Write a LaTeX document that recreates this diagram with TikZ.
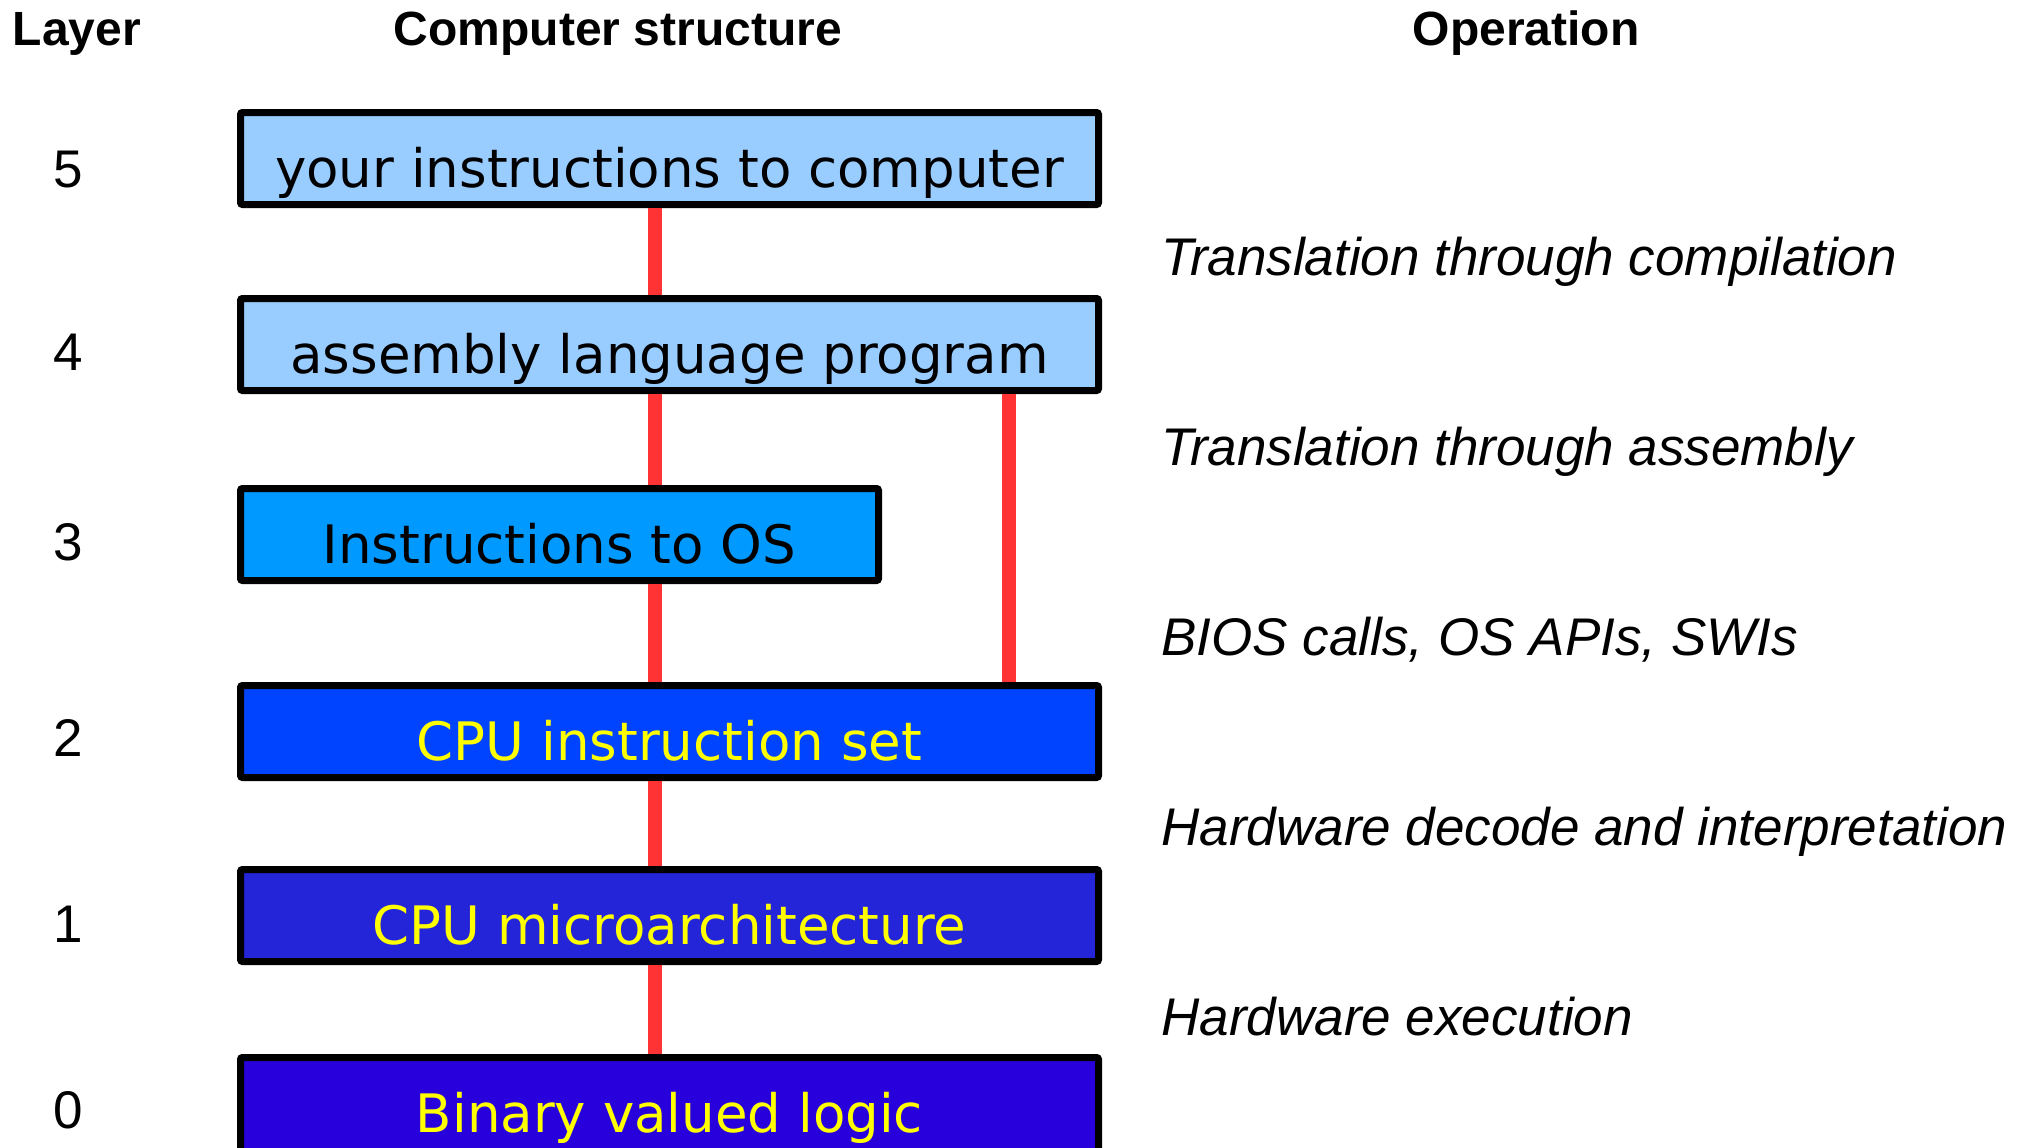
\documentclass[tikz,border=0pt]{standalone}
\usepackage{fontspec}
\setmainfont{Liberation Sans}
\newfontfamily\boxfont{DejaVu Sans}
\usetikzlibrary{positioning,calc}
\definecolor{myred}{HTML}{FF3333}
\definecolor{mylightblue}{HTML}{99CCFF}
\definecolor{myskyblue}{HTML}{0099FF}
\definecolor{myblue}{HTML}{0044FF}
\definecolor{mydarkblue}{HTML}{2424D8}
\definecolor{myindigo}{HTML}{2800DC}
\definecolor{myyellow}{HTML}{FFFF00}
\tikzset{
	layerbox/.style={
		rectangle, draw, line width=7pt, rounded corners=2pt,
		anchor=north west, inner sep=0pt,
		minimum width=858pt, minimum height=92pt,
		text height=74.5pt, text depth=17.5pt,
		font=\boxfont\fontsize{53}{60}\selectfont,
	},
	link/.style={
		draw, myred, line width=14pt,
	},
	heading/.style={anchor=base, font=\bfseries\fontsize{48}{56}\selectfont},
	layernum/.style={anchor=base, font=\fontsize{53}{60}\selectfont},
	oplabel/.style={anchor=base west, font=\itshape\fontsize{53}{60}\selectfont},
}

\begin{document}
\begin{tikzpicture}[x=1pt, y=-1pt]
                            \clip (0,0) rectangle (2018,1148);
                            % Column headings
                            \node [heading] (hlayer) at (77,46) {Layer};
                            \node [heading] (hstruct) at (618,46) {Computer structure};
                            \node [heading] (hop) at (1526,46) {Operation};
                            % Layer boxes
                            \node [layerbox, fill=mylightblue] (l5) at (237,109) {your instructions to computer};
                            \node [layerbox, fill=mylightblue] (l4) at (237,295) {assembly language program};
                            \node [layerbox, fill=myskyblue, minimum width=638pt] (l3) at (237,485) {Instructions to OS};
                            \node [layerbox, fill=myblue, text=myyellow] (l2) at (237,682) {CPU instruction set};
                            \node [layerbox, fill=mydarkblue, text=myyellow] (l1) at (237,866) {CPU microarchitecture};
                            \node [layerbox, fill=myindigo, text=myyellow, text depth=40pt] (l0) at (237,1054) {Binary valued logic};
                            % Layer numbers
                            \foreach \n/\y in {5/187,4/370,3/560,2/756,1/942,0/1128}
                                \node [layernum] (n\n) at (68,\y) {\n};
                            % Red links
                            \coordinate (spine) at (655,0);
                            \coordinate (bypass) at (1009,0);
                            \draw[link] (spine |- l5.south) -- (spine |- l4.north);
                            \draw[link] (spine |- l4.south) -- (spine |- l3.north);
                            \draw[link] (spine |- l3.south) -- (spine |- l2.north);
                            \draw[link] (spine |- l2.south) -- (spine |- l1.north);
                            \draw[link] (spine |- l1.south) -- (spine |- l0.north);
                            \draw[link] (bypass |- l4.south) -- (bypass |- l2.north);
                            % Operations
                            \node [oplabel] (op1) at (1158,275) {Translation through compilation};
                            \node [oplabel] (op2) at (1158,465) {Translation through assembly};
                            \node [oplabel] (op3) at (1158,655) {BIOS calls, OS APIs, SWIs};
                            \node [oplabel] (op4) at (1158,845) {Hardware decode and interpretation};
                            \node [oplabel] (op5) at (1158,1035) {Hardware execution};
                \end{tikzpicture}
\end{document}
